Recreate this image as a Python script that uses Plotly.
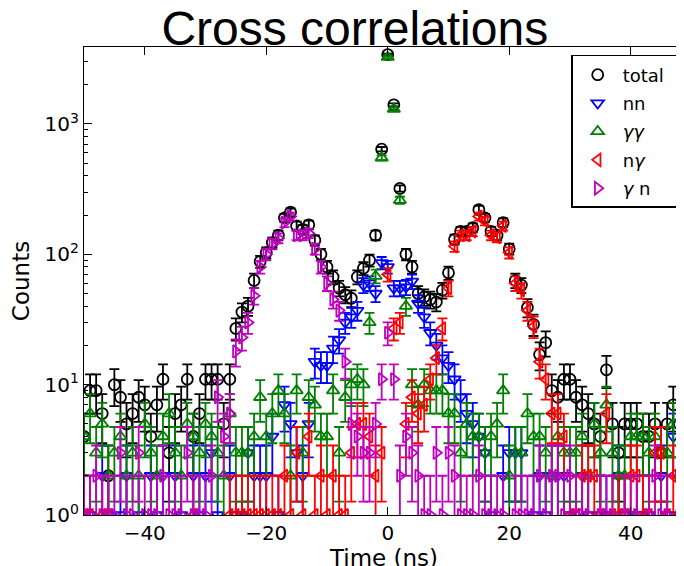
#!/usr/bin/env python3
"""Cross correlations: coincidence-time histograms per particle pair, log counts."""
import math

import plotly.graph_objects as go

# bin centres (ns), 1 ns bins
TIME_NS = list(range(-50, 51))

# counts per bin, t = -50 .. 50 (0 = empty bin, not drawn on the log axis)
TOTAL = [
    4, 9, 9, 6, 2, 10, 8, 5, 6, 8,
    7, 4, 7, 11, 3, 6, 7, 11, 4, 6,
    11, 11, 11, 5, 11, 27, 36, 40, 63, 88,
    103, 123, 140, 190, 210, 165, 155, 168, 128, 100,
    80, 67, 55, 49, 46, 67, 78, 90, 140, 640,
    3400, 1400, 320, 100, 80, 50, 47, 45, 43, 53,
    72, 130, 150, 150, 160, 220, 190, 150, 140, 175,
    110, 63, 58, 39, 29, 17, 21, 9, 8, 11,
    11, 8, 7, 6, 5, 4, 13, 5, 3, 5,
    5, 5, 4, 4, 5, 3, 5, 7, 5, 6,
    5,
]
NN = [
    0, 1, 0, 2, 1, 0, 1, 2, 0, 1,
    0, 2, 1, 2, 0, 2, 1, 0, 2, 1,
    2, 3, 1, 0, 2, 1, 1, 3, 2, 2,
    2, 4, 1, 7, 5, 3, 2, 5, 15, 14,
    14, 19, 22, 30, 33, 37, 58, 60, 50, 86,
    80, 55, 55, 56, 62, 42, 33, 25, 20, 16,
    14, 11, 8, 6, 5, 4, 3, 1, 0, 2,
    3, 3, 3, 0, 1, 2, 1, 2, 2, 2,
    1, 0, 2, 1, 0, 1, 1, 0, 2, 1,
    0, 1, 1, 1, 0, 2, 1, 4, 1, 0,
    1,
]
GG = [
    4, 6, 3, 5, 2, 3, 4, 2, 3, 2,
    5, 3, 2, 4, 6, 3, 2, 5, 4, 3,
    5, 4, 3, 2, 6, 3, 3, 3, 4, 8,
    4, 6, 9, 6, 2, 9, 3, 8, 7, 4,
    4, 9, 3, 8, 10, 11, 10, 30, 68, 550,
    3250, 1300, 260, 40, 10, 7, 10, 9, 9, 9,
    6, 6, 3, 5, 4, 4, 3, 4, 5, 9,
    2, 3, 3, 6, 4, 4, 3, 2, 4, 3,
    3, 3, 4, 2, 5, 3, 7, 3, 2, 2,
    4, 4, 4, 3, 4, 3, 3, 5, 2, 3,
    4,
]
NG = [
    1, 1, 0, 1, 1, 0, 0, 0, 0, 0,
    0, 0, 0, 0, 0, 0, 0, 0, 1, 0,
    0, 0, 0, 0, 1, 1, 1, 1, 1, 1,
    1, 1, 1, 2, 1, 3, 1, 4, 1, 2,
    1, 2, 1, 1, 3, 5, 5, 4, 2, 3,
    70, 27, 30, 5, 8, 6, 7, 11, 16, 27,
    55, 115, 140, 140, 150, 195, 180, 140, 135, 165,
    103, 60, 53, 37, 28, 15, 11, 6, 6, 4,
    1, 1, 2, 2, 2, 1, 6, 1, 1, 1,
    2, 2, 1, 1, 3, 3, 1, 2, 1, 1,
    2,
]
GN = [
    1, 1, 2, 1, 1, 1, 3, 1, 1, 3,
    1, 1, 1, 2, 1, 1, 1, 3, 1, 1,
    1, 2, 8, 4, 6, 18, 23, 30, 48, 80,
    100, 120, 133, 175, 195, 140, 140, 145, 110, 80,
    60, 45, 37, 15, 5, 4, 3, 3, 5, 11,
    25, 11, 2, 4, 3, 2, 1, 1, 3, 1,
    3, 2, 1, 1, 1, 2, 1, 1, 1, 1,
    0, 1, 1, 1, 1, 2, 1, 2, 2, 1,
    2, 1, 1, 1, 0, 1, 1, 1, 0, 1,
    1, 1, 0, 1, 2, 1, 1, 0, 1, 1,
    1,
]

SERIES = [
    ("total\u00a0\u00a0", TOTAL, "#000000", "circle-open"),
    ("nn", NN, "#0000ff", "triangle-down-open"),
    ("<i>γγ</i>", GG, "#008000", "triangle-up-open"),
    ("n<i>γ</i>", NG, "#ff0000", "triangle-left-open"),
    ("<i>γ</i> n", GN, "#bf00bf", "triangle-right-open"),
]

FONT = "DejaVu Sans, Verdana, sans-serif"

fig = go.Figure()
for name, counts, color, symbol in SERIES:
    xs = [t for t, c in zip(TIME_NS, counts) if c > 0]
    ys = [c for c in counts if c > 0]
    up = [math.sqrt(c) for c in ys]
    # keep the lower end positive so the log axis can draw it (clipped below 1)
    down = [min(math.sqrt(c), c * 0.999) for c in ys]
    fig.add_trace(go.Scatter(
        x=xs, y=ys, mode="markers", name=name, legendgroup=name,
        marker=dict(symbol=symbol, size=11, color=color,
                    line=dict(width=1.8, color=color)),
        error_y=dict(type="data", array=up, arrayminus=down,
                     color=color, thickness=1.8, width=5),
    ))

# the page body adds an 8 px offset, margins below compensate for it
fig.update_layout(
    width=684, height=566, autosize=False,
    margin=dict(l=76, r=8, t=39, b=59, autoexpand=False),
    paper_bgcolor="white", plot_bgcolor="white",
    font=dict(family=FONT, size=19, color="black"),
    title=dict(text="Cross correlations", x=0.507, xanchor="center",
               y=0.965, yanchor="middle", yref="container", automargin=False,
               font=dict(family="Liberation Sans, Arial, sans-serif",
                         size=48, color="black")),
    legend=dict(x=0.812, y=0.983, xanchor="left", yanchor="top",
                bgcolor="white", bordercolor="black", borderwidth=1.5,
                font=dict(family=FONT, size=18), tracegroupgap=2,
                itemwidth=40),
    showlegend=True,
)
fig.update_xaxes(
    range=[-50, 48.77], tickvals=[-40, -20, 0, 20, 40],
    ticktext=["\u221240", "\u221220", "0", "20", "40"],
    tickfont=dict(size=20),
    ticks="inside", ticklen=8, tickwidth=1, tickcolor="black",
    showline=True, linecolor="black", linewidth=1.3, mirror="ticks",
    showgrid=False, zeroline=False, automargin=False,
    title=dict(text="Time (ns)", standoff=0),
)
fig.update_yaxes(
    type="log", range=[0, 3.59],
    tickvals=[1, 10, 100, 1000],
    ticktext=["10<sup>0</sup>", "10<sup>1</sup>", "10<sup>2</sup>", "10<sup>3</sup>"],
    tickfont=dict(size=20),
    ticks="inside", ticklen=8, tickwidth=1, tickcolor="black",
    minor=dict(ticks="inside", ticklen=4, tickcolor="black", showgrid=False,
               tickvals=[2, 3, 4, 5, 6, 7, 8, 9, 20, 30, 40, 50, 60, 70, 80, 90,
                         200, 300, 400, 500, 600, 700, 800, 900, 2000, 3000]),
    showline=True, linecolor="black", linewidth=1.3, mirror=False,
    showgrid=False, zeroline=False, automargin=False,
    title=dict(text="Counts", standoff=11),
)

fig.write_html("out.html")
